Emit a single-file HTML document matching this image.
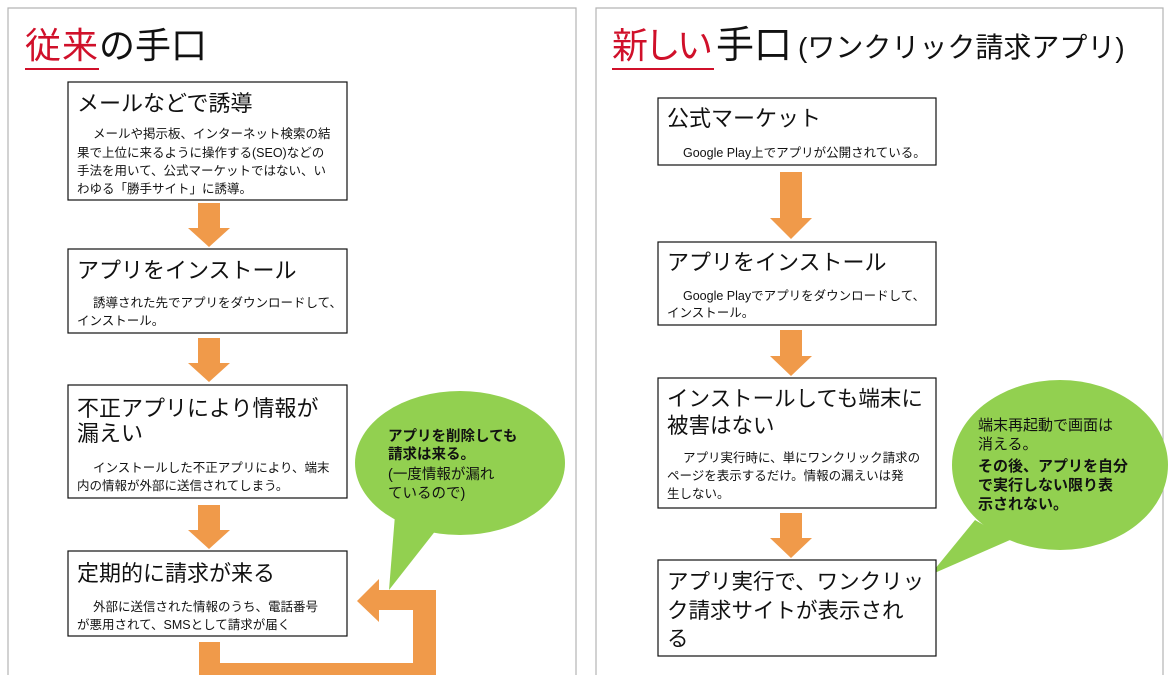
<!DOCTYPE html>
<html><head><meta charset="utf-8"><style>
html,body{margin:0;padding:0;background:#fff;}
svg{display:block;font-family:"Liberation Sans","Noto Sans CJK JP",sans-serif;}
</style></head><body>
<svg width="1170" height="675" viewBox="0 0 1170 675" xmlns="http://www.w3.org/2000/svg">
<rect width="1170" height="675" fill="#fff"/>
<!-- panels -->
<path d="M8 676 V8 H576 V676" fill="none" stroke="#b4b4b4" stroke-width="1.2"/>
<path d="M596 676 V8 H1163 V676" fill="none" stroke="#b4b4b4" stroke-width="1.2"/>

<!-- titles -->
<text x="25" y="58" font-size="36" fill="#d0102a" textLength="73">従来</text>
<line x1="25" y1="69" x2="99" y2="69" stroke="#d0102a" stroke-width="2"/>
<text x="99" y="58" font-size="36" fill="#111" textLength="108">の手口</text>

<text x="612" y="58" font-size="36" fill="#d0102a" textLength="101">新しい</text>
<line x1="612" y1="69" x2="714" y2="69" stroke="#d0102a" stroke-width="2"/>
<text x="716" y="58" font-size="38" fill="#111">手口</text>
<text x="798" y="57" font-size="28" fill="#111"> (ワンクリック請求アプリ)</text>

<g fill="#f09a4a">
<!-- left arrows -->
<polygon points="198,203 220,203 220,228 230,228 209,247 188,228 198,228"/>
<polygon points="198,338 220,338 220,363 230,363 209,382 188,363 198,363"/>
<polygon points="198,505 220,505 220,530 230,530 209,549 188,530 198,530"/>
<!-- U arrow -->
<polygon points="199,642 220,642 220,663 413,663 413,610 379,610 379,622 357,601 379,579 379,590 436,590 436,676 199,676"/>
<!-- right arrows -->
<polygon points="780,172 802,172 802,218 812,218 791,239 770,218 780,218"/>
<polygon points="780,330 802,330 802,356 812,356 791,376 770,356 780,356"/>
<polygon points="780,513 802,513 802,538 812,538 791,558 770,538 780,538"/>
</g>

<!-- green bubbles -->
<g fill="#92d050">
<ellipse cx="460" cy="463" rx="105" ry="72"/>
<polygon points="395,515 440,525 389,590"/>
<ellipse cx="1060" cy="465" rx="108" ry="85"/>
<polygon points="975,520 1010,540 930,575"/>
</g>

<!-- boxes -->
<g fill="#fff" stroke="#111" stroke-width="1.2">
<rect x="68" y="82" width="279" height="118"/>
<rect x="68" y="249" width="279" height="84"/>
<rect x="68" y="385" width="279" height="113"/>
<rect x="68" y="551" width="279" height="85"/>
<rect x="658" y="98" width="278" height="67"/>
<rect x="658" y="242" width="278" height="83"/>
<rect x="658" y="378" width="278" height="130"/>
<rect x="658" y="560" width="278" height="96"/>
</g>

<g fill="#111">
<!-- left box titles -->
<text x="77" y="111" font-size="22">メールなどで誘導</text>
<text x="77" y="278" font-size="22">アプリをインストール</text>
<text x="77" y="416" font-size="22">不正アプリにより情報が</text>
<text x="77" y="441" font-size="22">漏えい</text>
<text x="77" y="581" font-size="22">定期的に請求が来る</text>
<!-- left body -->
<g font-size="12.5">
<text x="93" y="138">メールや掲示板、インターネット検索の結</text>
<text x="77" y="157">果で上位に来るように操作する(SEO)などの</text>
<text x="77" y="175">手法を用いて、公式マーケットではない、い</text>
<text x="77" y="193">わゆる「勝手サイト」に誘導。</text>
<text x="93" y="307">誘導された先でアプリをダウンロードして、</text>
<text x="77" y="325">インストール。</text>
<text x="93" y="472">インストールした不正アプリにより、端末</text>
<text x="77" y="490">内の情報が外部に送信されてしまう。</text>
<text x="93" y="611">外部に送信された情報のうち、電話番号</text>
<text x="77" y="629">が悪用されて、SMSとして請求が届く</text>
</g>
<!-- left bubble -->
<g font-size="14.5">
<text x="388" y="441" font-weight="bold">アプリを削除しても</text>
<text x="388" y="459" font-weight="bold">請求は来る。</text>
<text x="388" y="479">(一度情報が漏れ</text>
<text x="388" y="498">ているので)</text>
</g>

<!-- right box titles -->
<text x="667" y="126" font-size="22">公式マーケット</text>
<text x="667" y="270" font-size="22">アプリをインストール</text>
<text x="667" y="406" font-size="21.5">インストールしても端末に</text>
<text x="667" y="433" font-size="21.5">被害はない</text>
<text x="667" y="589" font-size="21.5">アプリ実行で、ワンクリッ</text>
<text x="667" y="618" font-size="21.5">ク請求サイトが表示され</text>
<text x="667" y="646" font-size="21.5">る</text>
<g font-size="12.5">
<text x="683" y="157">Google Play上でアプリが公開されている。</text>
<text x="683" y="300">Google Playでアプリをダウンロードして、</text>
<text x="667" y="317">インストール。</text>
<text x="683" y="462">アプリ実行時に、単にワンクリック請求の</text>
<text x="667" y="480">ページを表示するだけ。情報の漏えいは発</text>
<text x="667" y="498">生しない。</text>
</g>
<g font-size="15">
<text x="978" y="430">端末再起動で画面は</text>
<text x="978" y="449">消える。</text>
<text x="978" y="471" font-weight="bold">その後、アプリを自分</text>
<text x="978" y="490" font-weight="bold">で実行しない限り表</text>
<text x="978" y="509" font-weight="bold">示されない。</text>
</g>
</g>
</svg>
</body></html>
